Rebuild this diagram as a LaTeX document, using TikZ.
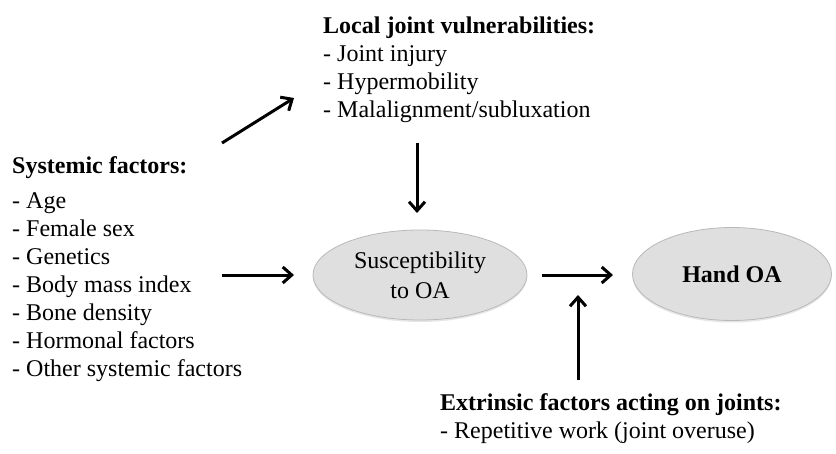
\documentclass[tikz,border=0pt]{standalone}
\usepackage{fontspec}
\setmainfont{Liberation Serif}
\usepackage{tikz}
\usetikzlibrary{arrows.meta}
\usetikzlibrary{shapes.geometric}
\usetikzlibrary{shadows}

\begin{document}
\begin{tikzpicture}[x=1pt, y=-1pt,
		every node/.style={font=\fontsize{24}{28}\selectfont},
		txt/.style={anchor=base west, inner sep=0, align=left},
		oval/.style={ellipse, draw=gray!55, fill=gray!25, line width=0.8pt, inner sep=0, align=center,
			drop shadow={opacity=0.2, shadow xshift=0pt, shadow yshift=-2pt}},
		arr/.style={line width=3pt, -{Straight Barb[length=9pt, width=16pt]}}]
		\useasboundingbox (0, 0) rectangle (836, 453);
		% text blocks (base = last line)
		\node [txt] (sys) at (12, 376) {\textbf{Systemic factors:}\\[7pt]- Age\\- Female sex\\- Genetics\\- Body mass index\\- Bone density\\- Hormonal factors\\- Other systemic factors};
		\node [txt] (loc) at (323, 117) {\textbf{Local joint vulnerabilities:}\\- Joint injury\\- Hypermobility\\- Malalignment/subluxation};
		\node [txt] (ext) at (440, 438) {\textbf{Extrinsic factors acting on joints:}\\- Repetitive work (joint overuse)};
		% ovals
		\node [oval, minimum width=214, minimum height=90, font=\fontsize{24}{30}\selectfont] (sus) at (420, 275) {Susceptibility\\to OA};
		\node [oval, minimum width=199, minimum height=93, font=\fontsize{24}{28}\selectfont\bfseries] (hand) at (732, 274) {Hand OA};
		% arrows
		\coordinate (a1) at (222, 143);
		\coordinate (a2) at (294, 98);
		\coordinate (b1) at (222, 275);
		\coordinate (b2) at (294, 275);
		\coordinate (c1) at (417, 143);
		\coordinate (c2) at (417, 213);
		\coordinate (d1) at (542, 275);
		\coordinate (d2) at (613, 275);
		\coordinate (e1) at (578, 380);
		\coordinate (e2) at (578, 295);
		\draw [arr] (a1) -- (a2);
		\draw [arr] (b1) -- (b2);
		\draw [arr] (c1) -- (c2);
		\draw [arr] (d1) -- (d2);
		\draw [arr] (e1) -- (e2);
	\end{tikzpicture}
\end{document}
